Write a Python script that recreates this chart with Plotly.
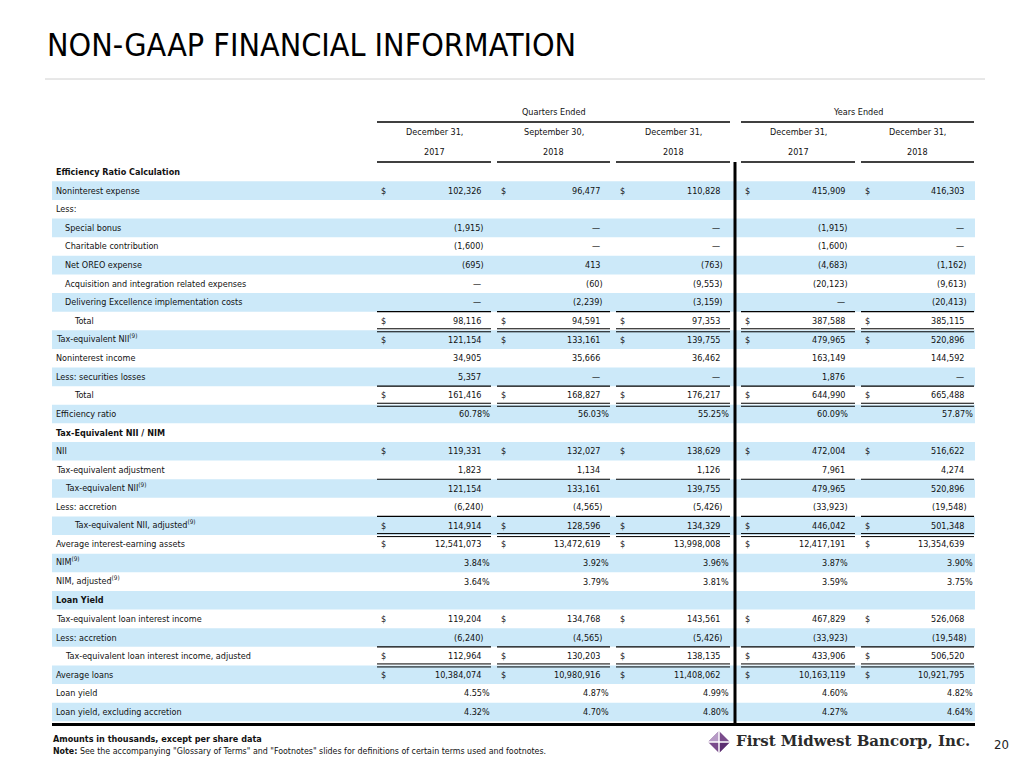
import plotly.graph_objects as go

# ---------------- data ----------------
title = "NON-GAAP FINANCIAL INFORMATION"
group_headers = ["Quarters Ended", "Years Ended"]
col_head_1 = ["December 31,", "September 30,", "December 31,", "December 31,", "December 31,"]
col_head_2 = ["2017", "2018", "2018", "2017", "2018"]

row_labels = [
    "Efficiency Ratio Calculation",
    "Noninterest expense",
    "Less:",
    "Special bonus",
    "Charitable contribution",
    "Net OREO expense",
    "Acquisition and integration related expenses",
    "Delivering Excellence implementation costs",
    "Total",
    "Tax-equivalent NII<sup>(9)</sup>",
    "Noninterest income",
    "Less: securities losses",
    "Total",
    "Efficiency ratio",
    "Tax-Equivalent NII / NIM",
    "NII",
    "Tax-equivalent adjustment",
    "Tax-equivalent NII<sup>(9)</sup>",
    "Less: accretion",
    "Tax-equivalent NII, adjusted<sup>(9)</sup>",
    "Average interest-earning assets",
    "NIM<sup>(9)</sup>",
    "NIM, adjusted<sup>(9)</sup>",
    "Loan Yield",
    "Tax-equivalent loan interest income",
    "Less: accretion",
    "Tax-equivalent loan interest income, adjusted",
    "Average loans",
    "Loan yield",
    "Loan yield, excluding accretion",
]
row_indent = [0, 0, 0, 1, 1, 1, 1, 1, 2, 0, 0, 0, 2, 0, 0, 0, 0, 1, 0, 2, 0, 0, 0, 0, 0, 0, 1, 0, 0, 0]
bold_rows = [0, 14, 23]
dollar_rows = [1, 8, 9, 12, 15, 19, 20, 24, 26, 27]
percent_rows = [13, 21, 22, 28, 29]
single_rule_after = [7, 11, 16, 18, 25]
double_rule_after = [8, 12, 19, 26]

q4_2017 = [None, 102326, None, -1915, -1600, -695, 0, 0, 98116, 121154, 34905, 5357, 161416, 60.78, None,
           119331, 1823, 121154, -6240, 114914, 12541073, 3.84, 3.64, None, 119204, -6240, 112964, 10384074, 4.55, 4.32]
q3_2018 = [None, 96477, None, 0, 0, 413, -60, -2239, 94591, 133161, 35666, 0, 168827, 56.03, None,
           132027, 1134, 133161, -4565, 128596, 13472619, 3.92, 3.79, None, 134768, -4565, 130203, 10980916, 4.87, 4.70]
q4_2018 = [None, 110828, None, 0, 0, -763, -9553, -3159, 97353, 139755, 36462, 0, 176217, 55.25, None,
           138629, 1126, 139755, -5426, 134329, 13998008, 3.96, 3.81, None, 143561, -5426, 138135, 11408062, 4.99, 4.80]
fy_2017 = [None, 415909, None, -1915, -1600, -4683, -20123, 0, 387588, 479965, 163149, 1876, 644990, 60.09, None,
           472004, 7961, 479965, -33923, 446042, 12417191, 3.87, 3.59, None, 467829, -33923, 433906, 10163119, 4.60, 4.27]
fy_2018 = [None, 416303, None, 0, 0, -1162, -9613, -20413, 385115, 520896, 144592, 0, 665488, 57.87, None,
           516622, 4274, 520896, -19548, 501348, 13354639, 3.90, 3.75, None, 526068, -19548, 506520, 10921795, 4.82, 4.64]
columns = [q4_2017, q3_2018, q4_2018, fy_2017, fy_2018]

footer_1 = "<b>Amounts in thousands, except per share data</b>"
footer_2 = "<b>Note:</b> See the accompanying \"Glossary of Terms\" and \"Footnotes\" slides for definitions of certain terms used and footnotes."
company = "First Midwest Bancorp, Inc."
page_no = "20"

# ---------------- layout / style ----------------
PAGE_OFF = 8          # default body margin of the html page
W, H = 1024, 768
FONT = "DejaVu Sans Condensed, Liberation Sans Narrow, Liberation Sans, sans-serif"
FS = 9
TXT = "#111111"
BAND = "#CCE9F9"
ROW0 = 172.0
PITCH = 18.62
col_x0 = [377, 497, 616, 741, 861]
col_x1 = [491, 610, 730, 855, 974]
pct_pad = [0, 0, 0, 6, 0]
LABEL_X = [55, 64, 73]
BAND_X0, BAND_X1 = 52, 975
VLINE_X = 735

def ry(i):
    return ROW0 + PITCH * i

def fmt(v, pct):
    if v is None:
        return ""
    if pct:
        return f"{v:.2f}%"
    if v == 0:
        return "\u2014"
    if v < 0:
        return f"({abs(v):,})"
    return f"{v:,}"

shapes = []
ann = []

def line(x0, y0, x1, y1, w=1.0, color="#000000"):
    shapes.append(dict(type="line", xref="x", yref="y", x0=x0, y0=y0, x1=x1, y1=y1,
                       line=dict(color=color, width=w), layer="above"))

def text(x, y, s, size=FS, anchor="left", bold=False, color=TXT, family=FONT, yanchor="middle"):
    if bold:
        s = f"<b>{s}</b>"
    ann.append(dict(x=x, y=y, xref="x", yref="y", text=s, showarrow=False, xanchor=anchor,
                    yanchor=yanchor, borderpad=0, font=dict(family=family, size=size, color=color)))

# bands
for i in range(len(row_labels)):
    if i % 2 == 1:
        shapes.append(dict(type="rect", xref="x", yref="y", x0=BAND_X0, x1=BAND_X1,
                           y0=ry(i) - PITCH / 2, y1=ry(i) + PITCH / 2,
                           fillcolor=BAND, line=dict(width=0), layer="below"))

# title
text(46, 45, title, size=32, color="#000000")
line(45, 79, 985, 79, w=1, color="#D0D0D0")

# group headers
text((col_x0[0] + col_x1[2]) / 2, 112, group_headers[0], anchor="center")
text((col_x0[3] + col_x1[4]) / 2, 112, group_headers[1], anchor="center")
line(col_x0[0], 122, col_x1[2], 122, w=1.5)
line(col_x0[3], 122, col_x1[4], 122, w=1.5)

for c in range(5):
    cx = (col_x0[c] + col_x1[c]) / 2
    text(cx, 132, col_head_1[c], anchor="center")
    text(cx, 152, col_head_2[c], anchor="center")
    line(col_x0[c], 162, col_x1[c], 162, w=1.5)

# rows
for i, lab in enumerate(row_labels):
    dy = -2 if "<sup>" in lab else 0
    text(LABEL_X[row_indent[i]], ry(i) + dy, lab, bold=(i in bold_rows))
    pct = i in percent_rows
    for c, col in enumerate(columns):
        v = col[i]
        s = fmt(v, pct)
        if not s:
            continue
        paren_edge = col_x1[c] - 6
        if pct:
            xr = col_x1[c] - pct_pad[c]
        elif v < 0:
            xr = paren_edge
        else:
            xr = paren_edge - 3
        text(xr, ry(i), s, anchor="right")
        if i in dollar_rows:
            text(col_x0[c] + 3, ry(i), "$")

# rules
for r in single_rule_after:
    yb = ry(r) + PITCH / 2
    for c in range(5):
        line(col_x0[c], yb, col_x1[c], yb, w=1.2)
for r in double_rule_after:
    yb = ry(r) + PITCH / 2
    for c in range(5):
        line(col_x0[c], yb - 1.5, col_x1[c], yb - 1.5, w=1.0)
        line(col_x0[c], yb + 1.5, col_x1[c], yb + 1.5, w=1.0)

# bottom rule and vertical divider
line(BAND_X0, 724.5, BAND_X1, 724.5, w=3)
line(VLINE_X, 162, VLINE_X, 724, w=3)

# footer
text(52, 739, footer_1, size=9)
text(52, 751, footer_2, size=8.8)

# logo mark
lx, lyc, r = 719, 742, 11
shapes.append(dict(type="path", xref="x", yref="y",
                   path=f"M {lx-r},{lyc} L {lx},{lyc-r} L {lx+r},{lyc} L {lx},{lyc+r} Z",
                   fillcolor="#7A4C8C", line=dict(width=0)))
shapes.append(dict(type="path", xref="x", yref="y",
                   path=f"M {lx-r},{lyc} L {lx},{lyc-r} L {lx},{lyc} Z",
                   fillcolor="#B79BC6", line=dict(width=0)))
shapes.append(dict(type="path", xref="x", yref="y",
                   path=f"M {lx},{lyc} L {lx+r},{lyc} L {lx},{lyc+r} Z",
                   fillcolor="#5B2E70", line=dict(width=0)))
line(lx - r, lyc, lx + r, lyc, w=1.5, color="#FFFFFF")
line(lx, lyc - r, lx, lyc + r, w=1.5, color="#FFFFFF")
text(735, 741, "<b>" + company + "</b>", size=15, family="DejaVu Serif", color="#2B2B2B")
text(1001, 744, page_no, size=13, anchor="center", family="DejaVu Sans Condensed, Liberation Sans", color="#222222")

fig = go.Figure()
fig.add_trace(go.Scatter(x=[PAGE_OFF, W], y=[PAGE_OFF, H], mode="markers", marker=dict(opacity=0),
                         hoverinfo="skip", showlegend=False))
fig.update_layout(
    width=W - PAGE_OFF, height=H - PAGE_OFF, margin=dict(l=0, r=0, t=0, b=0),
    paper_bgcolor="white", plot_bgcolor="white",
    xaxis=dict(range=[PAGE_OFF, W], visible=False, fixedrange=True),
    yaxis=dict(range=[H, PAGE_OFF], visible=False, fixedrange=True),
    shapes=shapes, annotations=ann, showlegend=False,
)
fig.write_html("out.html")
